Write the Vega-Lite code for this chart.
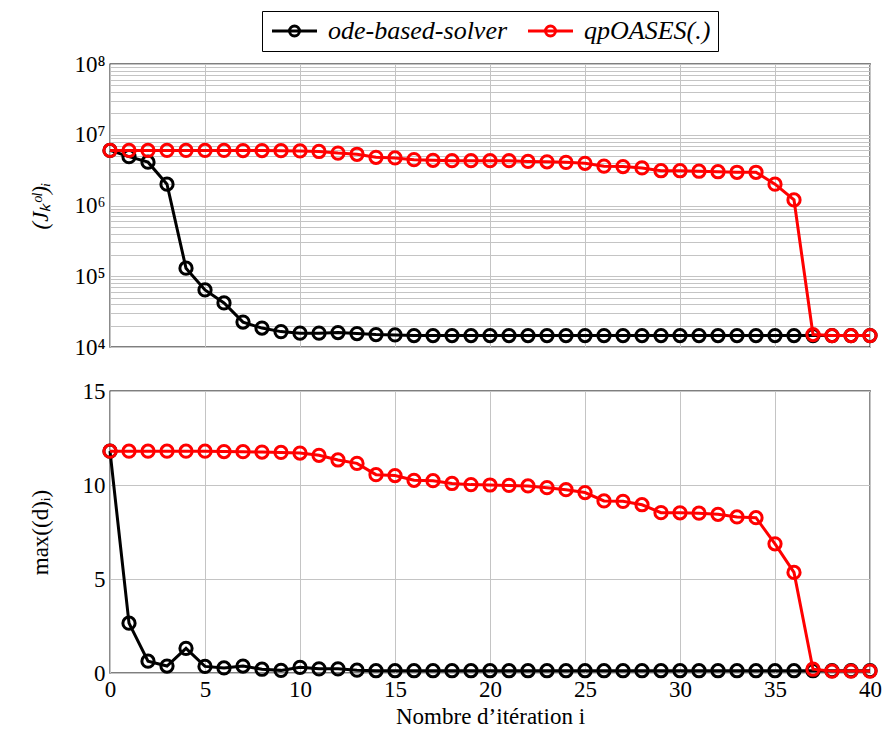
{
  "$schema": "https://vega.github.io/schema/vega-lite/v6.json",
  "background": "white",
  "padding": {"left": 28, "top": 10, "right": 0, "bottom": 2},
  "datasets": {
    "pts": [
      {"i":0,"series":"ode-based-solver","J":6.0e6,"d":11.8},
      {"i":1,"series":"ode-based-solver","J":4.9e6,"d":2.65},
      {"i":2,"series":"ode-based-solver","J":4.1e6,"d":0.63},
      {"i":3,"series":"ode-based-solver","J":2.0e6,"d":0.37},
      {"i":4,"series":"ode-based-solver","J":1.3e5,"d":1.31},
      {"i":5,"series":"ode-based-solver","J":6.4e4,"d":0.35},
      {"i":6,"series":"ode-based-solver","J":4.2e4,"d":0.27},
      {"i":7,"series":"ode-based-solver","J":2.25e4,"d":0.37},
      {"i":8,"series":"ode-based-solver","J":1.85e4,"d":0.2},
      {"i":9,"series":"ode-based-solver","J":1.65e4,"d":0.14},
      {"i":10,"series":"ode-based-solver","J":1.57e4,"d":0.3},
      {"i":11,"series":"ode-based-solver","J":1.57e4,"d":0.22},
      {"i":12,"series":"ode-based-solver","J":1.6e4,"d":0.22},
      {"i":13,"series":"ode-based-solver","J":1.55e4,"d":0.15},
      {"i":14,"series":"ode-based-solver","J":1.5e4,"d":0.12},
      {"i":15,"series":"ode-based-solver","J":1.48e4,"d":0.12},
      {"i":16,"series":"ode-based-solver","J":1.45e4,"d":0.12},
      {"i":17,"series":"ode-based-solver","J":1.45e4,"d":0.12},
      {"i":18,"series":"ode-based-solver","J":1.45e4,"d":0.12},
      {"i":19,"series":"ode-based-solver","J":1.45e4,"d":0.12},
      {"i":20,"series":"ode-based-solver","J":1.45e4,"d":0.12},
      {"i":21,"series":"ode-based-solver","J":1.45e4,"d":0.12},
      {"i":22,"series":"ode-based-solver","J":1.45e4,"d":0.12},
      {"i":23,"series":"ode-based-solver","J":1.45e4,"d":0.12},
      {"i":24,"series":"ode-based-solver","J":1.45e4,"d":0.12},
      {"i":25,"series":"ode-based-solver","J":1.45e4,"d":0.12},
      {"i":26,"series":"ode-based-solver","J":1.45e4,"d":0.12},
      {"i":27,"series":"ode-based-solver","J":1.45e4,"d":0.12},
      {"i":28,"series":"ode-based-solver","J":1.45e4,"d":0.12},
      {"i":29,"series":"ode-based-solver","J":1.45e4,"d":0.12},
      {"i":30,"series":"ode-based-solver","J":1.45e4,"d":0.12},
      {"i":31,"series":"ode-based-solver","J":1.45e4,"d":0.12},
      {"i":32,"series":"ode-based-solver","J":1.45e4,"d":0.12},
      {"i":33,"series":"ode-based-solver","J":1.45e4,"d":0.12},
      {"i":34,"series":"ode-based-solver","J":1.45e4,"d":0.12},
      {"i":35,"series":"ode-based-solver","J":1.45e4,"d":0.12},
      {"i":36,"series":"ode-based-solver","J":1.45e4,"d":0.12},
      {"i":37,"series":"ode-based-solver","J":1.45e4,"d":0.12},
      {"i":38,"series":"ode-based-solver","J":1.45e4,"d":0.12},
      {"i":39,"series":"ode-based-solver","J":1.45e4,"d":0.12},
      {"i":40,"series":"ode-based-solver","J":1.45e4,"d":0.12},
      {"i":0,"series":"qpOASES(.)","J":6.0e6,"d":11.8},
      {"i":1,"series":"qpOASES(.)","J":6.0e6,"d":11.8},
      {"i":2,"series":"qpOASES(.)","J":6.0e6,"d":11.8},
      {"i":3,"series":"qpOASES(.)","J":6.0e6,"d":11.8},
      {"i":4,"series":"qpOASES(.)","J":6.0e6,"d":11.8},
      {"i":5,"series":"qpOASES(.)","J":6.0e6,"d":11.8},
      {"i":6,"series":"qpOASES(.)","J":6.0e6,"d":11.78},
      {"i":7,"series":"qpOASES(.)","J":5.98e6,"d":11.77},
      {"i":8,"series":"qpOASES(.)","J":5.97e6,"d":11.75},
      {"i":9,"series":"qpOASES(.)","J":5.95e6,"d":11.73},
      {"i":10,"series":"qpOASES(.)","J":5.9e6,"d":11.7},
      {"i":11,"series":"qpOASES(.)","J":5.8e6,"d":11.58},
      {"i":12,"series":"qpOASES(.)","J":5.5e6,"d":11.33},
      {"i":13,"series":"qpOASES(.)","J":5.3e6,"d":11.15},
      {"i":14,"series":"qpOASES(.)","J":4.8e6,"d":10.55},
      {"i":15,"series":"qpOASES(.)","J":4.7e6,"d":10.5},
      {"i":16,"series":"qpOASES(.)","J":4.45e6,"d":10.25},
      {"i":17,"series":"qpOASES(.)","J":4.35e6,"d":10.23},
      {"i":18,"series":"qpOASES(.)","J":4.3e6,"d":10.08},
      {"i":19,"series":"qpOASES(.)","J":4.3e6,"d":10.02},
      {"i":20,"series":"qpOASES(.)","J":4.3e6,"d":10.0},
      {"i":21,"series":"qpOASES(.)","J":4.3e6,"d":9.98},
      {"i":22,"series":"qpOASES(.)","J":4.2e6,"d":9.95},
      {"i":23,"series":"qpOASES(.)","J":4.15e6,"d":9.86},
      {"i":24,"series":"qpOASES(.)","J":4.07e6,"d":9.75},
      {"i":25,"series":"qpOASES(.)","J":3.95e6,"d":9.6},
      {"i":26,"series":"qpOASES(.)","J":3.6e6,"d":9.15},
      {"i":27,"series":"qpOASES(.)","J":3.55e6,"d":9.13},
      {"i":28,"series":"qpOASES(.)","J":3.4e6,"d":8.95},
      {"i":29,"series":"qpOASES(.)","J":3.1e6,"d":8.53},
      {"i":30,"series":"qpOASES(.)","J":3.1e6,"d":8.52},
      {"i":31,"series":"qpOASES(.)","J":3.05e6,"d":8.5},
      {"i":32,"series":"qpOASES(.)","J":3.0e6,"d":8.44},
      {"i":33,"series":"qpOASES(.)","J":2.95e6,"d":8.3},
      {"i":34,"series":"qpOASES(.)","J":2.95e6,"d":8.26},
      {"i":35,"series":"qpOASES(.)","J":2.0e6,"d":6.87},
      {"i":36,"series":"qpOASES(.)","J":1.2e6,"d":5.35},
      {"i":37,"series":"qpOASES(.)","J":1.5e4,"d":0.2},
      {"i":38,"series":"qpOASES(.)","J":1.45e4,"d":0.1},
      {"i":39,"series":"qpOASES(.)","J":1.45e4,"d":0.1},
      {"i":40,"series":"qpOASES(.)","J":1.45e4,"d":0.1}
    ]
  },
  "data": {"name": "pts"},
  "spacing": 19,
  "vconcat": [
    {
      "width": 760,
      "height": 283,
      "encoding": {
        "x": {"field": "i", "type": "quantitative", "scale": {"domain": [0, 40], "nice": false},
              "axis": {"values": [0,5,10,15,20,25,30,35,40], "labels": false, "title": null, "ticks": false, "minExtent": 0, "maxExtent": 0, "labelPadding": 0}},
        "y": {"field": "J", "type": "quantitative",
              "scale": {"type": "log", "domain": [10000, 100000000], "nice": false},
              "axis": {"title": "(Jₖᵒˡ)ᵢ", "titleFontStyle": "italic",
                       "values": [10000,20000,30000,40000,50000,60000,70000,80000,90000,100000,200000,300000,400000,500000,600000,700000,800000,900000,1000000,2000000,3000000,4000000,5000000,6000000,7000000,8000000,9000000,10000000,20000000,30000000,40000000,50000000,60000000,70000000,80000000,90000000,100000000],
                       "labelExpr": "datum.value == 10000 ? '10⁴' : datum.value == 100000 ? '10⁵' : datum.value == 1000000 ? '10⁶' : datum.value == 10000000 ? '10⁷' : datum.value == 100000000 ? '10⁸' : ''",
                       "ticks": false, "labelFlush": false, "minExtent": 50, "maxExtent": 50}},
        "color": {"field": "series", "type": "nominal",
                  "scale": {"domain": ["ode-based-solver", "qpOASES(.)"], "range": ["#000000", "#ff0000"]},
                  "legend": {"title": null}}
      },
      "layer": [
        {"transform": [{"filter": "datum.series == 'ode-based-solver'"}],
         "mark": {"type": "line", "strokeWidth": 3, "point": {"filled": false, "size": 150, "strokeWidth": 3}}},
        {"transform": [{"filter": "datum.series == 'qpOASES(.)'"}],
         "mark": {"type": "line", "strokeWidth": 3, "point": {"filled": false, "size": 150, "strokeWidth": 3}}}
      ]
    },
    {
      "width": 760,
      "height": 282,
      "encoding": {
        "x": {"field": "i", "type": "quantitative", "scale": {"domain": [0, 40], "nice": false},
              "axis": {"values": [0,5,10,15,20,25,30,35,40], "title": "Nombre d’itération i", "ticks": false, "labelFlush": false, "labelPadding": 5, "titlePadding": 4}},
        "y": {"field": "d", "type": "quantitative",
              "scale": {"domain": [0, 15], "nice": false},
              "axis": {"title": "max((d)ᵢ)", "values": [0,5,10,15], "ticks": false, "labelFlush": false, "minExtent": 50, "maxExtent": 50}},
        "color": {"field": "series", "type": "nominal",
                  "scale": {"domain": ["ode-based-solver", "qpOASES(.)"], "range": ["#000000", "#ff0000"]},
                  "legend": {"title": null}}
      },
      "layer": [
        {"transform": [{"filter": "datum.series == 'ode-based-solver'"}],
         "mark": {"type": "line", "strokeWidth": 3, "point": {"filled": false, "size": 150, "strokeWidth": 3}}},
        {"transform": [{"filter": "datum.series == 'qpOASES(.)'"}],
         "mark": {"type": "line", "strokeWidth": 3, "point": {"filled": false, "size": 150, "strokeWidth": 3}}}
      ]
    }
  ],
  "config": {
    "font": "Liberation Serif",
    "view": {"stroke": "#000000", "strokeWidth": 1.3},
    "axis": {
      "labelFont": "Liberation Serif", "labelFontSize": 23, "labelColor": "#000000",
      "titleFont": "Liberation Serif", "titleFontSize": 23, "titleFontWeight": "normal", "titleColor": "#000000",
      "domain": false, "gridColor": "#c4c4c4", "gridWidth": 1, "gridOpacity": 1, "labelPadding": 5, "titlePadding": 8
    },
    "legend": {
      "orient": "top",
      "direction": "horizontal",
      "layout": {"top": {"anchor": "middle"}},
      "strokeColor": "#000000",
      "padding": 7,
      "labelFont": "Liberation Serif", "labelFontSize": 26, "labelFontStyle": "italic", "labelColor": "#000000",
      "labelLimit": 0,
      "symbolType": "M-1,0L3.5,0M0.75,0A0.5,0.5 0 1 1 1.75,0A0.5,0.5 0 1 1 0.75,0",
      "symbolSize": 400,
      "symbolStrokeWidth": 3,
      "symbolFillColor": "transparent",
      "columnPadding": 14,
      "labelOffset": 33,
      "offset": 1
    }
  }
}
